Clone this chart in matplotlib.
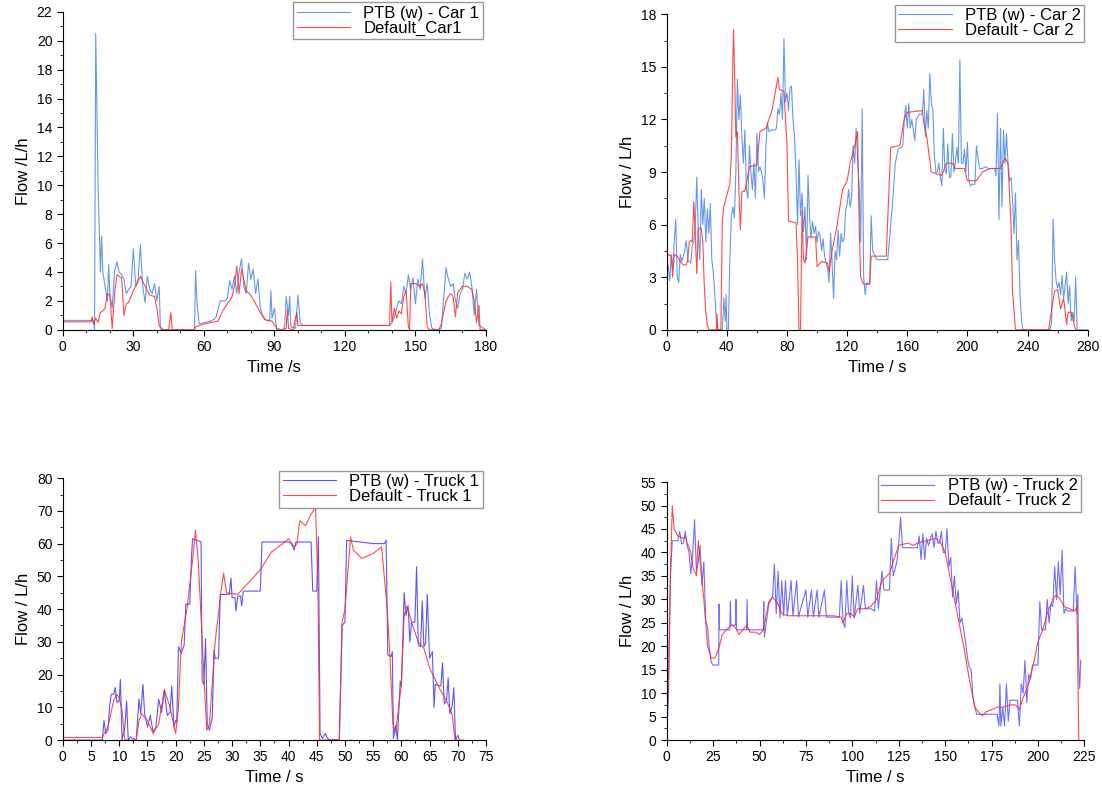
import matplotlib.pyplot as plt
from matplotlib.ticker import MultipleLocator, AutoMinorLocator

plt.rcParams['font.family'] = ['Liberation Sans', 'DejaVu Sans']

# ---- Car 1 ----
car1_ptb_t = [0, 13, 13.5, 14, 15, 15.5, 16, 16.5, 17, 18, 19, 19.5, 20, 21, 22, 23, 24, 25, 26, 27, 28, 29, 30, 31, 32, 33, 34, 35, 36, 37, 38, 39, 40, 41, 41.5, 43, 56, 56.5, 57, 58, 60, 63, 65, 67, 69, 70, 71, 72, 73, 74, 75, 76, 77, 78, 79, 80, 81, 82, 83, 84, 85, 86, 88, 88.5, 89, 90, 91, 94, 94.5, 95, 96, 96.5, 97, 99, 100, 101, 102, 139, 140, 141, 142, 143, 144, 145, 146, 147, 148, 149, 150, 151, 152, 153, 154, 155, 156, 157, 159, 161, 162, 163, 164, 165, 166, 167, 168, 169, 170, 171, 172, 173, 174, 175, 176, 177, 180]
car1_ptb_v = [0.65, 0.65, 0, 20.5, 10, 7, 4, 6.5, 4, 3, 2, 4.5, 2.5, 1.5, 4, 4.7, 4, 3.8, 3.5, 2.5, 2.8, 3, 5.6, 3, 3.5, 5.9, 3, 1.9, 3.7, 2.8, 2.5, 3.2, 2, 3, 0.2, 0, 0, 4.1, 2, 0.4, 0.5, 0.6, 0.8, 2, 2, 2.2, 3.4, 2.8, 3.7, 2.5, 4, 4.9, 3, 2.5, 4.6, 3.5, 4.2, 2.5, 3.5, 1.5, 1, 0.7, 0.6, 2.7, 0.8, 1.5, 0, 0, 0.5, 2.3, 1, 2.3, 0.2, 0.1, 2.4, 0.5, 0.3, 0.3, 0.5, 0.9, 1.5, 2, 1.8, 3, 2.5, 3.8, 2.8, 3.6, 1.8, 3.5, 2.8, 4.9, 2.2, 3.2, 1, 0.1, 0, 0.1, 2.2, 4.3, 3.5, 3, 3.2, 2, 1.5, 2.5, 2.8, 3.9, 3.5, 4, 3, 1, 2.8, 0.3, 0]
car1_def_t = [0, 12, 12.5, 13, 14, 15, 16, 17, 18, 19, 20, 21, 22, 23, 24, 25, 26, 27, 28, 30, 33, 35, 37, 39, 40, 41, 42, 45, 46, 46.5, 56, 56.5, 60, 63, 66, 68, 70, 72, 73, 74, 75, 76, 77, 78, 80, 82, 84, 86, 89, 91, 93, 95, 95.5, 96, 98, 99.5, 100, 139, 139.5, 140, 141, 142, 143, 144, 145, 146, 147, 147.5, 148, 150, 151, 152, 153, 154, 155, 156, 160, 161, 162, 163, 164, 165, 166, 167, 168, 170, 172, 174, 175, 176, 177, 177.5, 180]
car1_def_v = [0.55, 0.55, 0.9, 0.4, 0.8, 0.5, 1.2, 1.3, 1.5, 2.5, 2.4, 0.1, 2.5, 3.8, 3.7, 3.6, 1, 1.8, 1.9, 2.7, 3.7, 3, 2.4, 2.3, 1.5, 0.3, 0, 0, 1.2, 0, 0, 0.2, 0.4, 0.5, 0.6, 1.3, 1.8, 2.3, 3, 4.4, 2.5, 4.2, 3.5, 2.7, 2.4, 1.8, 1.2, 0.7, 0.6, 0.1, 0, 0.1, 1.4, 0.1, 0, 1.2, 0.3, 0.3, 3.3, 0.5, 1.5, 0.8, 1.3, 1.1, 2.3, 2.7, 0.2, 0, 3.2, 3.2, 3.1, 3, 3.2, 2.5, 0.2, 0, 0, 0.4, 1.2, 2, 2.3, 2.5, 2.3, 0.9, 2.6, 3, 3, 2.8, 2, 0.5, 1.7, 0, 0]

# ---- Car 2 ----
car2_ptb_t = [0, 1, 2, 3, 4, 5, 6, 7, 8, 9, 10, 12, 13, 14, 16, 17, 18, 19, 20, 21, 22, 23, 24, 25, 26, 27, 28, 29, 30, 31, 32, 33, 34, 37, 38, 39, 39.5, 40, 41, 42, 43, 44, 45, 46, 47, 48, 49, 50, 51, 52, 53, 54, 55, 56, 57, 58, 59, 60, 61, 62, 63, 64, 65, 66, 67, 68, 70, 72, 73, 74, 75, 76, 77, 78, 79, 80, 81, 82, 83, 84, 85, 86, 87, 88, 89, 90, 91, 92, 93, 94, 95, 96, 97, 98, 99, 100, 101, 102, 103, 104, 105, 106, 107, 108, 109, 110, 111, 112, 113, 114, 115, 116, 117, 118, 119, 120, 121, 122, 123, 124, 125, 126, 127, 128, 129, 130, 131, 132, 133, 135, 136, 137, 138, 140, 145, 147, 148, 150, 152, 154, 156, 157, 158, 159, 160, 161, 162, 163, 164, 165, 166, 168, 170, 171, 172, 173, 174, 175, 176, 177, 178, 179, 180, 181, 182, 183, 184, 185, 186, 187, 188, 189, 190, 191, 192, 193, 194, 195, 196, 197, 198, 199, 200, 201, 202, 203, 205, 206, 208, 210, 212, 214, 216, 218, 219, 220, 221, 222, 223, 224, 225, 226, 227, 228, 229, 230, 231, 232, 233, 234, 235, 236, 237, 255, 256, 257, 258, 259, 260, 261, 262, 263, 264, 265, 266, 267, 268, 269, 270, 271, 272, 273, 280]
car2_ptb_v = [3.5, 3.7, 2.8, 4.3, 3.5, 5, 6.3, 3, 2.7, 4.3, 3.9, 4.5, 5.1, 4, 3.8, 4.8, 5, 6, 8.7, 5.5, 4, 8, 6, 7.5, 5, 6.9, 5.5, 7.2, 4, 3.3, 2, 0.5, 0, 0, 1.8, 0.5, 2, 0, 0, 4, 6.5, 7, 6.4, 9, 14.3, 12, 13.4, 11, 9.5, 11.4, 8, 7.5, 10.5, 9, 8, 9.5, 7.5, 11.2, 9, 9.3, 9, 8.5, 7.5, 10.5, 11.8, 11.3, 11.4, 11.4, 11.5, 12.6, 12.3, 13.5, 12, 16.6, 13, 13.5, 12.5, 13.8, 13.9, 12, 11, 9, 6, 9.7, 6.5, 7.8, 5.6, 7, 4, 8.8, 6.5, 5.2, 6.2, 5.5, 5.9, 5, 5.6, 5.4, 4.5, 5.2, 4.2, 3.8, 3.5, 2.7, 5.5, 3.8, 1.8, 4.5, 4, 5.7, 4.2, 5.5, 5, 5.2, 6.8, 7.2, 8, 7, 7.6, 10.5, 9.5, 11.5, 9.7, 8.2, 5, 12.6, 3, 2, 2.7, 2.6, 6.5, 4.5, 4.3, 4, 4, 4, 5, 7, 9.5, 10.3, 10.4, 10.5, 12, 12.8, 11.5, 12.9, 11.5, 12, 11.4, 10.8, 12, 12.3, 12.3, 13.7, 11, 12.5, 11.5, 14.6, 13, 12.5, 10, 9, 9, 9.5, 8.7, 8.2, 11.5, 9.2, 8.9, 10.6, 8.7, 8.7, 11.2, 9, 9.5, 10.4, 9.5, 15.4, 9.5, 9.5, 10.3, 9, 10.7, 8.5, 8.2, 8.3, 8.3, 10.5, 9.2, 9.2, 9.3, 9.2, 9.2, 9.2, 8.8, 12.3, 6.3, 11.5, 7, 11.4, 9.5, 11.2, 9.5, 8.5, 8.7, 7.5, 5.5, 7.8, 4, 5.1, 2, 0.5, 0, 0, 0.5, 6.3, 4, 2.8, 2.4, 2.7, 2, 3.1, 1.8, 2.5, 3.3, 1.5, 2.5, 0.5, 1, 0.5, 3, 0, 0]
car2_def_t = [0, 1, 3, 4, 5, 7, 9, 11, 13, 14, 15, 16, 17, 18, 19, 20, 21, 23, 24, 25, 26, 27, 28, 33, 33.5, 34, 36, 37, 38, 40, 42, 43, 44, 44.5, 46, 47, 48, 49, 50, 52, 55, 60, 62, 66, 70, 74, 75, 78, 79, 80, 81, 86, 87, 88, 89, 90, 91, 92, 94, 99, 100, 103, 107, 108, 110, 113, 117, 120, 122, 125, 127, 128, 129, 131, 135, 136, 146, 149, 155, 158, 160, 170, 171, 173, 176, 183, 186, 190, 192, 198, 200, 206, 210, 215, 222, 225, 227, 229, 230, 232, 254, 258, 260, 262, 264, 266, 267, 269, 271, 272]
car2_def_v = [4, 4.3, 4.2, 3, 4.3, 4.2, 3.9, 3.7, 3.7, 4, 5, 5.1, 5, 7.3, 5.5, 3.2, 5.8, 5.8, 5, 2.5, 1, 0.3, 0, 0, 0.9, 0, 0, 6.3, 7, 7.7, 8.3, 10, 15.5, 17.1, 11, 11.3, 8, 5.7, 7.9, 7.9, 9.3, 9.4, 11.3, 11.5, 12.5, 14.4, 13.7, 13.6, 12, 10.6, 6.2, 6.1, 4, 0, 0, 6.8, 4, 3.8, 5.3, 5.3, 3.6, 3.9, 3.8, 3.3, 4.5, 5.8, 8, 8.5, 9.5, 10.5, 11.3, 6, 3, 2.6, 2.6, 4.2, 4.2, 10.4, 10.5, 12, 12.4, 12.5, 11.8, 11, 9, 8.8, 9.5, 9.5, 9.2, 9.2, 8.5, 8.5, 9, 9.2, 9.2, 9.8, 9.5, 6, 2.2, 0, 0, 2.2, 2.3, 1.2, 1.8, 0.3, 1, 1, 0.3, 0]

# ---- Truck 1 ----
truck1_ptb_t = [0, 7, 7.3, 7.6, 8, 8.3, 8.6, 9, 9.3, 9.6, 10, 10.2, 10.5, 11, 11.3, 11.6, 12, 13, 13.5, 13.8, 14.2, 14.5, 15, 15.5, 16, 16.5, 17, 17.5, 18, 18.5, 19, 19.3, 19.7, 20, 20.2, 20.5, 21, 21.5, 21.8, 22.5, 22.8, 23, 24.5, 24.7, 25, 25.3, 25.6, 26, 26.5, 26.8, 27, 27.6, 27.9, 29.5, 29.8, 30, 30.5, 30.7, 31, 31.5, 31.7, 32, 35, 35.3, 40, 40.5, 41, 41.3, 44, 44.3, 45, 45.3, 45.6, 46, 46.5, 47, 49, 49.5, 50, 50.3, 55, 57, 57.3, 57.6, 58.2, 58.4, 58.6, 59, 59.3, 59.8, 60, 60.5, 60.8, 61.2, 61.5, 61.8, 62.4, 62.7, 63, 63.4, 63.7, 64, 64.3, 64.6, 65, 65.5, 65.8, 66, 67, 67.3, 67.6, 68, 68.3, 68.6, 69, 69.3, 69.6, 70, 70.3]
truck1_ptb_v = [0, 0, 6, 2, 3, 10.5, 14, 14, 16, 11.5, 12, 18.5, 0, 4, 12, 0, 1, 0, 12.5, 8, 17, 8, 4, 7.5, 2.5, 4, 12.5, 8.5, 15, 7.5, 8.5, 16.5, 4, 6, 5.5, 28.5, 26.5, 29, 41.5, 41.5, 56, 61.5, 60.5, 18, 17, 31, 5, 3, 7, 27.5, 25, 25, 44.5, 44.5, 49.5, 43.5, 43.5, 39.5, 44, 44, 41, 45.5, 45.5, 60.5, 60.5, 60, 58, 60.5, 60.5, 45.5, 45.5, 62, 2, 0.5, 2, 0.3, 0, 35, 36, 61, 60, 60, 61, 26, 25.5, 27, 0.5, 4.5, 0, 18, 16.5, 45, 38, 41, 30, 36, 36, 53, 29, 28.5, 42.5, 28.5, 29.5, 44.5, 25, 27, 10, 17, 16.5, 23.5, 11, 12, 19, 8, 10.5, 16, 0, 1.5, 0]
truck1_def_t = [0, 7, 8, 9, 9.5, 10, 10.5, 11, 13, 13.5, 14, 15, 16, 17, 18, 19, 20, 20.5, 21, 22, 23, 23.5, 24, 25, 25.5, 26, 27, 28, 28.5, 29, 31, 35, 37, 39, 40, 41, 41.5, 42, 43, 44, 44.8, 45.2, 45.5, 49, 49.5, 50, 51, 51.5, 53, 55, 56.5, 57.5, 58, 58.5, 59, 60, 60.5, 61, 62, 63, 64, 65, 67, 68, 69, 69.5, 71]
truck1_def_v = [0.8, 0.8, 4, 12, 14, 13, 9, 0, 0, 6, 8, 6, 2, 5, 15.5, 10, 2, 10, 30, 40, 55, 64, 55, 20, 3, 5, 30, 45, 51, 45, 44.5, 52, 57.5, 60, 61.5, 59, 60, 67, 65.5, 69, 71, 48, 0, 0, 36, 40, 62, 58, 55.5, 57, 59, 40, 25, 5, 2.5, 17, 38, 41, 35, 30, 28, 22, 15, 12, 8, 0, 0]

# ---- Truck 2 ----
truck2_ptb_t = [0, 1, 2, 3, 6, 7, 8, 9, 10, 11, 12, 13, 14, 15, 16, 17, 18, 19, 20, 21, 22, 23, 24, 25, 28, 28.2, 28.5, 34, 34.3, 34.6, 37, 37.3, 37.6, 43, 43.3, 43.6, 52, 52.3, 52.6, 55, 57, 58, 59, 60, 61, 62, 63, 64, 65, 67, 68, 70, 71, 75, 76, 78, 79, 81, 82, 85, 86, 93, 94, 95, 96, 97, 98, 99, 100, 101, 103, 104, 106, 107, 110, 112, 113, 114, 116, 117, 120, 121, 122, 124, 125, 126, 127, 135, 136, 137, 138, 139, 140, 141, 143, 144, 145, 146, 147, 148, 149, 150, 151, 152, 153, 154, 155, 156, 157, 158, 159, 160, 161, 162, 163, 164, 165, 166, 167, 178, 179, 179.5, 180, 181, 182, 183, 184, 185, 189, 190, 191, 192, 193, 194, 195, 196, 197, 200, 201, 202, 204, 205, 206, 207, 208, 209, 210, 211, 212, 213, 214, 215, 216, 219, 220, 221, 221.5, 222, 222.5, 223]
truck2_ptb_v = [0, 10, 35, 42.5, 42.5, 44.5, 41.8, 42, 44.5, 41.5, 40, 35.5, 39.5, 47, 36, 38, 41.5, 33, 38, 25.5, 24, 19.5, 16.5, 16, 16, 29, 23.5, 23.5, 29.5, 24.5, 24.5, 30, 23.5, 23.5, 30, 23.5, 23.5, 29.5, 22, 29, 30.5, 37.5, 27, 36, 26, 34, 26.5, 34, 26.5, 34, 26.5, 34, 26.3, 32, 26.2, 32, 26.2, 32, 26.2, 32, 26.2, 26.2, 34, 25, 24, 34, 27, 26, 35, 26, 33, 27, 33, 28, 28, 27.5, 34, 28, 36, 32, 32, 43, 35, 38, 42, 47.5, 41, 41, 43.5, 38.5, 44, 38.5, 43, 41.5, 44, 41, 44.5, 42, 42, 44.5, 40, 40, 45, 37, 39, 30.5, 35, 29, 32, 25, 26, 23.5, 21, 17.5, 15.5, 15, 9, 7, 5.5, 5.5, 3, 12, 3, 7, 3, 12, 4, 8.5, 8.5, 3, 12, 10, 17, 8, 14, 13, 16, 16, 29.5, 23.5, 23.5, 30, 25, 29, 28.5, 37, 30, 38, 31, 40.5, 27, 28, 27.5, 27.5, 37, 27, 31, 15, 11, 17]
truck2_def_t = [0, 1, 2, 3, 4, 6, 9, 10, 11, 13, 14, 15, 16, 17, 18, 20, 22, 24, 26, 28, 30, 32, 35, 37, 39, 41, 43, 45, 48, 50, 52, 55, 57, 60, 62, 65, 70, 80, 90, 94, 95, 97, 99, 101, 103, 107, 110, 113, 116, 120, 122, 125, 130, 133, 135, 140, 145, 147, 150, 153, 156, 160, 163, 166, 168, 170, 172, 175, 178, 181, 185, 188, 190, 192, 195, 198, 200, 203, 205, 208, 210, 212, 214, 217, 220, 221, 222]
truck2_def_v = [0, 15, 35, 50, 45, 43.5, 43, 43.5, 42, 40, 37, 36, 35, 42.5, 38, 30, 20, 17.5, 17.5, 19.5, 22.5, 23.5, 24.5, 24, 22.5, 23.5, 24.5, 23, 23, 22.5, 23.5, 29.5, 30.5, 29, 27, 26.5, 26.5, 26.5, 26.5, 26.2, 25, 27, 27, 26.3, 28, 28, 28.5, 30, 34, 35.5, 38, 41.5, 42, 41.5, 42, 42.5, 43, 42.5, 40, 34, 28, 20, 13, 7, 6, 5.2, 6, 6.5, 7, 7, 7.5, 7.5, 6.5, 9, 12, 17, 21, 24, 27, 30, 31, 30, 28.5, 28, 27.5, 28.5, 0]

fig = plt.figure(figsize=(11.02, 7.89), dpi=100)

panels = [
    ([0.057, 0.582, 0.384, 0.403], car1_ptb_t, car1_ptb_v, car1_def_t, car1_def_v,
     'PTB (w) - Car 1', 'Default_Car1', '#4a86e8', (0, 180), 30, 10, (0, 22), 2, 'Flow /L/h', 'Time /s'),
    ([0.605, 0.582, 0.382, 0.400], car2_ptb_t, car2_ptb_v, car2_def_t, car2_def_v,
     'PTB (w) - Car 2', 'Default - Car 2', '#4a86e8', (0, 280), 40, 20, (0, 18), 3, 'Flow / L/h', 'Time / s'),
    ([0.057, 0.062, 0.384, 0.332], truck1_ptb_t, truck1_ptb_v, truck1_def_t, truck1_def_v,
     'PTB (w) - Truck 1', 'Default - Truck 1', '#3a3aff', (0, 75), 5, 2.5, (0, 80), 10, 'Flow / L/h', 'Time / s'),
    ([0.605, 0.062, 0.379, 0.327], truck2_ptb_t, truck2_ptb_v, truck2_def_t, truck2_def_v,
     'PTB (w) - Truck 2', 'Default - Truck 2', '#5555ff', (0, 225), 25, 12.5, (0, 55), 5, 'Flow / L/h', 'Time / s'),
]

for rect, bt, bv, rt, rv, lb, lr, bc, xl, xmaj, xmin, yl, ymaj, ylab, xlab in panels:
    ax = fig.add_axes(rect)
    ax.plot(bt, bv, color=bc, lw=0.8, alpha=0.85, label=lb)
    ax.plot(rt, rv, color='#ff2a2a', lw=0.8, alpha=0.85, label=lr)
    ax.set_xlim(*xl)
    ax.set_ylim(*yl)
    ax.xaxis.set_major_locator(MultipleLocator(xmaj))
    ax.xaxis.set_minor_locator(MultipleLocator(xmin))
    ax.yaxis.set_major_locator(MultipleLocator(ymaj))
    ax.yaxis.set_minor_locator(AutoMinorLocator(2))
    for s in ('top', 'right'):
        ax.spines[s].set_visible(False)
    ax.tick_params(which='major', length=4, labelsize=10)
    ax.tick_params(which='minor', length=2)
    ax.set_xlabel(xlab, fontsize=12)
    ax.set_ylabel(ylab, fontsize=12)
    leg = ax.legend(loc='upper right', bbox_to_anchor=(1.0, 1.04), fontsize=12,
                    fancybox=False, framealpha=1, borderaxespad=0.2,
                    handlelength=3.2, borderpad=0.2, labelspacing=0.0)
    leg.get_frame().set_edgecolor('#999999')

fig.savefig('out.png', dpi=100)
